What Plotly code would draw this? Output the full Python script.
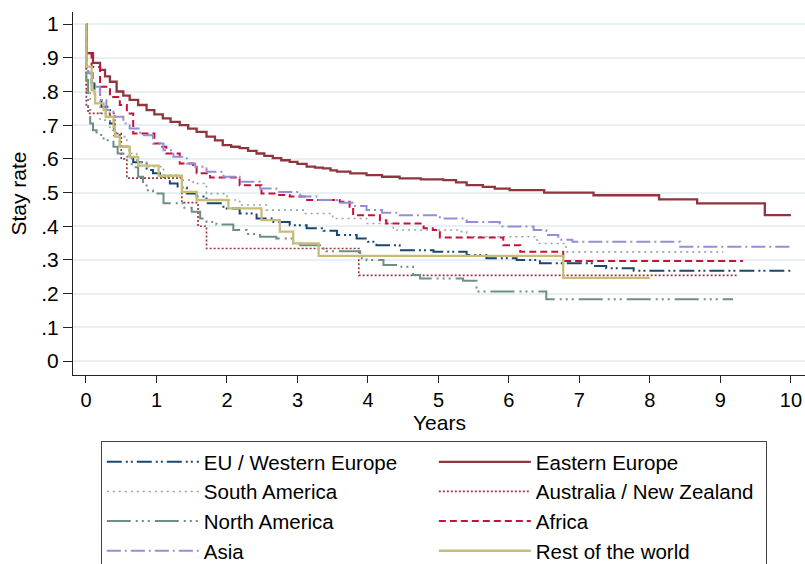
import plotly.graph_objects as go

# Kaplan-Meier stay-rate curves by region of origin (time in years)
eu_t = [0, 0.005, 0.08, 0.12, 0.2, 0.22, 0.34, 0.4, 0.48, 0.62, 0.67, 0.86, 0.95, 1.05, 1.19, 1.3,
        1.43, 1.57, 1.71, 1.95, 2.18, 2.42, 2.66, 2.89, 3.13, 3.37, 3.56, 3.84, 4.0, 4.12, 4.45,
        4.93, 5.4, 5.68, 6.11, 6.44, 7.2, 7.38, 7.77, 10.0]
eu_s = [1.0, 0.859, 0.824, 0.804, 0.775, 0.755, 0.705, 0.67, 0.636, 0.606, 0.59, 0.567, 0.557,
        0.547, 0.527, 0.515, 0.497, 0.488, 0.468, 0.453, 0.438, 0.423, 0.413, 0.403, 0.394, 0.387,
        0.374, 0.364, 0.354, 0.344, 0.329, 0.324, 0.315, 0.305, 0.30, 0.29, 0.282, 0.275, 0.268,
        0.268]

ee_t = [0, 0.005, 0.1, 0.2, 0.27, 0.34, 0.435, 0.53, 0.62, 0.74, 0.86, 0.97, 1.09, 1.2, 1.33,
        1.45, 1.57, 1.71, 1.83, 1.94, 2.06, 2.18, 2.3, 2.42, 2.53, 2.65, 2.77, 2.89, 3.0, 3.13,
        3.25, 3.36, 3.47, 3.56, 3.75, 3.98, 4.2, 4.45, 4.75, 5.07, 5.25, 5.4, 5.63, 5.8, 6.01,
        6.5, 7.2, 8.13, 8.67, 9.63, 10.0]
ee_s = [1.0, 0.914, 0.885, 0.864, 0.845, 0.829, 0.80, 0.788, 0.775, 0.76, 0.745, 0.732, 0.72,
        0.71, 0.70, 0.69, 0.68, 0.666, 0.655, 0.641, 0.636, 0.632, 0.624, 0.616, 0.609, 0.602,
        0.596, 0.591, 0.585, 0.577, 0.574, 0.572, 0.566, 0.562, 0.557, 0.552, 0.547, 0.542,
        0.539, 0.537, 0.53, 0.522, 0.517, 0.512, 0.507, 0.50, 0.492, 0.48, 0.468, 0.433, 0.433]

sa_t = [0, 0.005, 0.06, 0.2, 0.34, 0.43, 0.58, 0.62, 0.72, 0.86, 1.1, 1.33, 1.52, 1.71, 2.0,
        2.18, 2.56, 3.1, 3.5, 3.98, 4.36, 5.3, 5.4, 6.4, 6.81, 9.04]
sa_s = [1.0, 0.80, 0.775, 0.715, 0.685, 0.666, 0.636, 0.616, 0.59, 0.577, 0.552, 0.537, 0.527,
        0.497, 0.478, 0.463, 0.448, 0.438, 0.423, 0.408, 0.389, 0.384, 0.369, 0.349, 0.324,
        0.324]

au_t = [0, 0.005, 0.03, 0.41, 0.5, 0.58, 1.36, 1.59, 1.71, 3.87, 9.23]
au_s = [1.0, 0.76, 0.735, 0.675, 0.60, 0.543, 0.47, 0.40, 0.334, 0.254, 0.254]

na_t = [0, 0.005, 0.03, 0.06, 0.1, 0.15, 0.25, 0.39, 0.45, 0.53, 0.65, 0.74, 0.81, 0.86, 0.95,
        1.1, 1.38, 1.5, 1.62, 1.71, 1.85, 2.09, 2.28, 2.47, 2.7, 2.94, 3.04, 3.32, 3.41, 3.89,
        3.98, 4.22, 4.45, 4.64, 4.74, 5.35, 5.54, 6.53, 9.18]
na_s = [1.0, 0.834, 0.75, 0.705, 0.685, 0.671, 0.655, 0.636, 0.616, 0.606, 0.575, 0.547, 0.527,
        0.507, 0.497, 0.468, 0.455, 0.443, 0.423, 0.413, 0.405, 0.389, 0.377, 0.369, 0.364,
        0.349, 0.344, 0.334, 0.326, 0.305, 0.30, 0.285, 0.28, 0.255, 0.245, 0.238, 0.206, 0.183,
        0.183]

af_t = [0, 0.005, 0.08, 0.2, 0.34, 0.48, 0.58, 0.67, 0.97, 1.05, 1.14, 1.33, 1.52, 1.57, 1.76,
        2.18, 2.49, 2.7, 2.89, 3.1, 3.6, 3.74, 3.79, 4.17, 4.26, 4.79, 4.92, 5.02, 5.92, 6.16,
        6.77, 9.32]
af_s = [1.0, 0.913, 0.873, 0.814, 0.784, 0.76, 0.735, 0.675, 0.646, 0.636, 0.616, 0.586, 0.577,
        0.557, 0.545, 0.522, 0.497, 0.493, 0.488, 0.478, 0.473, 0.458, 0.433, 0.418, 0.408,
        0.394, 0.389, 0.367, 0.344, 0.324, 0.297, 0.297]

as_t = [0, 0.005, 0.03, 0.1, 0.2, 0.29, 0.39, 0.53, 0.62, 0.77, 0.95, 1.1, 1.24, 1.43, 1.55,
        1.71, 1.95, 2.18, 2.47, 2.7, 3.04, 3.27, 3.56, 3.8, 3.98, 4.2, 4.45, 5.02, 5.4, 5.87,
        6.35, 6.53, 6.7, 6.9, 8.43, 10.0]
as_s = [1.0, 0.87, 0.854, 0.814, 0.775, 0.745, 0.725, 0.705, 0.69, 0.67, 0.646, 0.626, 0.606,
        0.586, 0.577, 0.562, 0.547, 0.532, 0.512, 0.502, 0.488, 0.478, 0.47, 0.46, 0.448, 0.44,
        0.433, 0.423, 0.413, 0.399, 0.389, 0.374, 0.36, 0.354, 0.339, 0.339]

rw_t = [0, 0.005, 0.08, 0.12, 0.13, 0.25, 0.28, 0.39, 0.41, 0.48, 0.62, 0.74, 1.03, 1.36, 1.57,
        2.02, 2.49, 2.75, 2.94, 3.3, 6.77, 8.0]
rw_s = [1.0, 0.874, 0.804, 0.794, 0.765, 0.745, 0.725, 0.695, 0.666, 0.636, 0.606, 0.58, 0.55,
        0.502, 0.478, 0.453, 0.418, 0.384, 0.349, 0.312, 0.247, 0.247]

y_ticks = [0, 0.1, 0.2, 0.3, 0.4, 0.5, 0.6, 0.7, 0.8, 0.9, 1.0]
y_labels = ["0", ".1", ".2", ".3", ".4", ".5", ".6", ".7", ".8", ".9", "1"]
x_ticks = list(range(0, 11))

series = [
    ("EU / Western Europe", eu_t, eu_s, "#1a476f", 2.0, "15px,4px,2px,3px,2px,4px"),
    ("Eastern Europe", ee_t, ee_s, "#90353b", 2.3, "solid"),
    ("South America", sa_t, sa_s, "#8eaaa0", 1.6, "2px,4px"),
    ("Australia / New Zealand", au_t, au_s, "#9c3a44", 1.7, "2px,2px"),
    ("North America", na_t, na_s, "#6e8e84", 2.0, "24px,5px,2px,4px,2px,4px,2px,5px"),
    ("Africa", af_t, af_s, "#c8103a", 2.0, "7px,4px"),
    ("Asia", as_t, as_s, "#958ed6", 2.0, "14px,4px,2px,4px"),
    ("Rest of the world", rw_t, rw_s, "#c8bc78", 2.3, "solid"),
]

FONT = "Liberation Sans, Arial, sans-serif"

fig = go.Figure()
for name, t, s, color, width, dash in series:
    fig.add_trace(go.Scatter(
        x=t, y=s, name=name, mode="lines",
        line=dict(color=color, width=width, dash=dash, shape="hv"),
    ))

fig.update_layout(
    width=805, height=564,
    margin=dict(l=73, r=0, t=12, b=189, autoexpand=False),
    paper_bgcolor="white", plot_bgcolor="white",
    font=dict(family=FONT, size=21, color="black"),
    showlegend=True,
    legend=dict(
        orientation="h", x=0.038, y=-0.1818, xanchor="left", yanchor="top",
        xref="paper", yref="paper",
        itemwidth=92, entrywidth=225, entrywidthmode="pixels",
        bordercolor="#444444", borderwidth=1, bgcolor="white",
        font=dict(family=FONT, size=20.5, color="black"),
        traceorder="normal",
    ),
    annotations=[dict(
        text="Years", xref="paper", yref="paper", x=0.5, y=-0.131,
        xanchor="center", yanchor="middle", showarrow=False,
        font=dict(family=FONT, size=21, color="black"),
    )],
)

fig.update_xaxes(
    range=[-0.184, 10.2], tickvals=x_ticks, ticks="outside", ticklen=7, tickwidth=1.3,
    tickcolor="#222222", showline=True, linecolor="#222222", linewidth=1.3,
    showgrid=False, zeroline=False,
    tickfont=dict(size=20),
)
fig.update_yaxes(
    range=[-0.0415, 1.036], tickvals=y_ticks, ticktext=y_labels, ticks="outside", ticklen=9,
    tickwidth=1.3, tickcolor="#222222", showline=True, linecolor="#222222", linewidth=1.3,
    showgrid=True, gridcolor="#e8f0f2", gridwidth=1.5, zeroline=False,
    title=dict(text="Stay rate", standoff=8, font=dict(size=21)),
    tickfont=dict(size=21),
)

fig.write_html("out.html")
